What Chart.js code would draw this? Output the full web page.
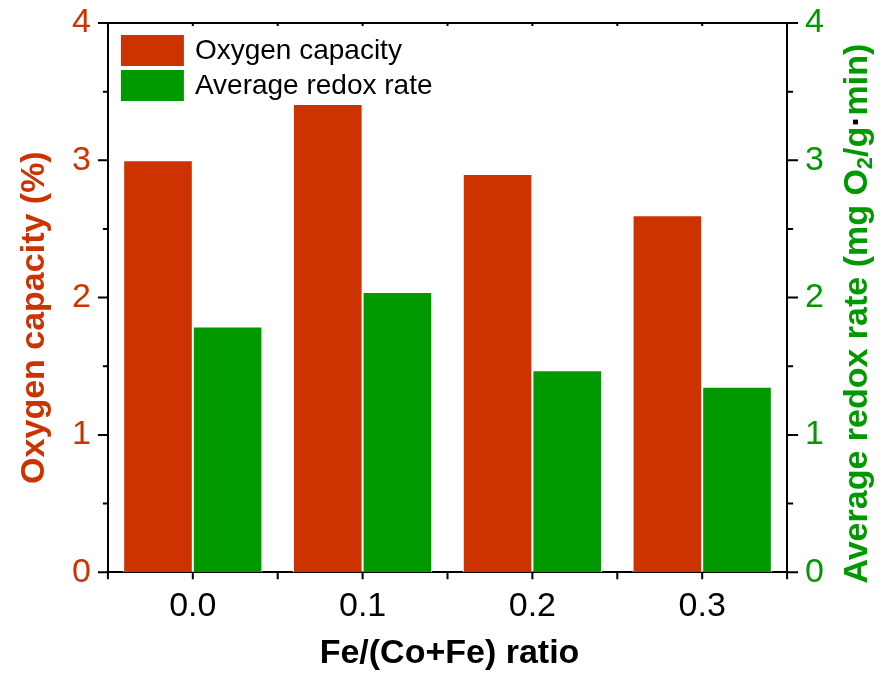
<!DOCTYPE html>
<html>
<head>
<meta charset="utf-8">
<script src="https://cdn.jsdelivr.net/npm/chart.js@4.4.0/dist/chart.umd.min.js"></script>
<style>
  body { margin: 0; background: #fff; }
  canvas { display: block; }
</style>
</head>
<body>
<canvas id="myChart" width="889" height="676"></canvas>
<script>
// data
const ratios = ['0.0', '0.1', '0.2', '0.3'];
const oxygenCapacity = [3.00, 3.41, 2.90, 2.60];   // %
const redoxRate = [1.79, 2.04, 1.47, 1.35];        // mg O2/g·min
const yTicks = [0, 1, 2, 3, 4];

const orange = '#CC3300';
const green = '#009900';
const font = "'Liberation Sans', Arial, sans-serif";

// frame line on top, outward ticks with minor ticks, like the origin plot
const frame = {
    id: 'frame',
    afterDraw(chart) {
        const ctx = chart.ctx;
        const a = chart.chartArea;
        const x = chart.scales.x, y = chart.scales.y, y1 = chart.scales.y1;
        ctx.save();
        ctx.strokeStyle = '#000';
        ctx.lineWidth = 2;
        ctx.beginPath();
        ctx.moveTo(a.left - 1, a.top);
        ctx.lineTo(a.right + 1, a.top);

        for (let i = 0; i < yTicks.length; i++) {
            let v = yTicks[i];
            let p = y.getPixelForValue(v);
            ctx.moveTo(a.left, p); ctx.lineTo(a.left - 10, p);
            p = y1.getPixelForValue(v);
            ctx.moveTo(a.right, p); ctx.lineTo(a.right + 11, p);
            if (i < yTicks.length - 1) {
                let m = (v + yTicks[i + 1]) / 2;
                p = y.getPixelForValue(m);
                ctx.moveTo(a.left, p); ctx.lineTo(a.left - 5, p);
                p = y1.getPixelForValue(m);
                ctx.moveTo(a.right, p); ctx.lineTo(a.right + 6, p);
            }
        }

        let half = (x.getPixelForValue(1) - x.getPixelForValue(0)) / 2;
        for (let i = 0; i < ratios.length; i++) {
            let c = x.getPixelForValue(i);
            let pts = [c, c - half];
            if (i == ratios.length - 1) pts.push(c + half);
            pts.forEach(px => {
                ctx.moveTo(px, a.bottom); ctx.lineTo(px, a.bottom + 7);
                ctx.moveTo(px, a.top); ctx.lineTo(px, a.top + 3);
            });
        }
        ctx.stroke();

        // axis titles
        ctx.font = "bold 34px " + font;
        ctx.textAlign = 'center';
        ctx.textBaseline = 'middle';
        ctx.fillStyle = '#000';
        ctx.fillText('Fe/(Co+Fe) ratio', (a.left + a.right) / 2 + 2, 654);

        let midY = (a.top + a.bottom) / 2 + 20;
        ctx.save();
        ctx.translate(35, midY);
        ctx.rotate(-Math.PI / 2);
        ctx.fillStyle = orange;
        ctx.fillText('Oxygen capacity (%)', 0, 0);
        ctx.restore();

        // right title with a real subscript
        ctx.save();
        ctx.translate(858, midY - 4);
        ctx.rotate(-Math.PI / 2);
        ctx.textAlign = 'left';
        let parts = [
            ['Average redox rate (mg O', 'bold 34px ', green, 0],
            ['2', 'bold 22px ', green, 8],
            ['/g', 'bold 34px ', green, 0],
            ['\u00b7', 'bold 34px ', '#000', 0],
            ['min)', 'bold 34px ', green, 0]
        ];
        let total = 0;
        parts.forEach(p => { ctx.font = p[1] + font; total += ctx.measureText(p[0]).width; });
        let cx = -total / 2;
        parts.forEach(p => {
            ctx.font = p[1] + font;
            ctx.fillStyle = p[2];
            ctx.fillText(p[0], cx, p[3]);
            cx += ctx.measureText(p[0]).width;
        });
        ctx.restore();

        // legend inside the plot, top left
        let lx = a.left + 13, ly = a.top + 12;
        chart.data.datasets.forEach((ds, i) => {
            let by = ly + i * 35;
            ctx.fillStyle = ds.backgroundColor;
            ctx.fillRect(lx, by, 63, 31);
            ctx.fillStyle = '#000';
            ctx.font = "28px " + font;
            ctx.textAlign = 'left';
            ctx.fillText(ds.label, lx + 74, by + 16);
        });
        ctx.restore();
    }
};

// let the top "4" label hang over the frame instead of pushing the plot down
function noVertPadding(scale) {
    scale.paddingTop = 0;
    scale.paddingBottom = 0;
}

let myChart = document.getElementById('myChart').getContext('2d');
let barChart = new Chart(myChart, {
    type: 'bar',
    data: {
        labels: ratios,
        datasets: [
            {
                label: 'Oxygen capacity',
                backgroundColor: orange,
                borderColor: '#fff',
                borderWidth: 1,
                data: oxygenCapacity,
                yAxisID: 'y'
            },
            {
                label: 'Average redox rate',
                backgroundColor: green,
                borderColor: '#fff',
                borderWidth: 1,
                data: redoxRate,
                yAxisID: 'y1'
            }
        ]
    },
    options: {
        responsive: false,
        animation: false,
        layout: { padding: { left: 55, right: 47, top: 23, bottom: 35 } },
        datasets: { bar: { barPercentage: 1, categoryPercentage: 0.82 } },
        plugins: { legend: { display: false }, tooltip: { enabled: false } },
        scales: {
            x: {
                grid: { display: false, drawTicks: false },
                border: { display: true, color: '#000', width: 2 },
                ticks: { color: '#000', font: { family: font, size: 34 }, padding: 14 }
            },
            y: {
                position: 'left',
                min: 0, max: 4,
                afterFit: noVertPadding,
                grid: { display: false, drawTicks: false },
                border: { display: true, color: '#000', width: 2 },
                ticks: { stepSize: 1, color: orange, font: { family: font, size: 34 }, padding: 17 }
            },
            y1: {
                position: 'right',
                min: 0, max: 4,
                afterFit: noVertPadding,
                grid: { display: false, drawTicks: false },
                border: { display: true, color: '#000', width: 2 },
                ticks: { stepSize: 1, color: green, font: { family: font, size: 34 }, padding: 18 }
            }
        }
    },
    plugins: [frame]
});
</script>
</body>
</html>
